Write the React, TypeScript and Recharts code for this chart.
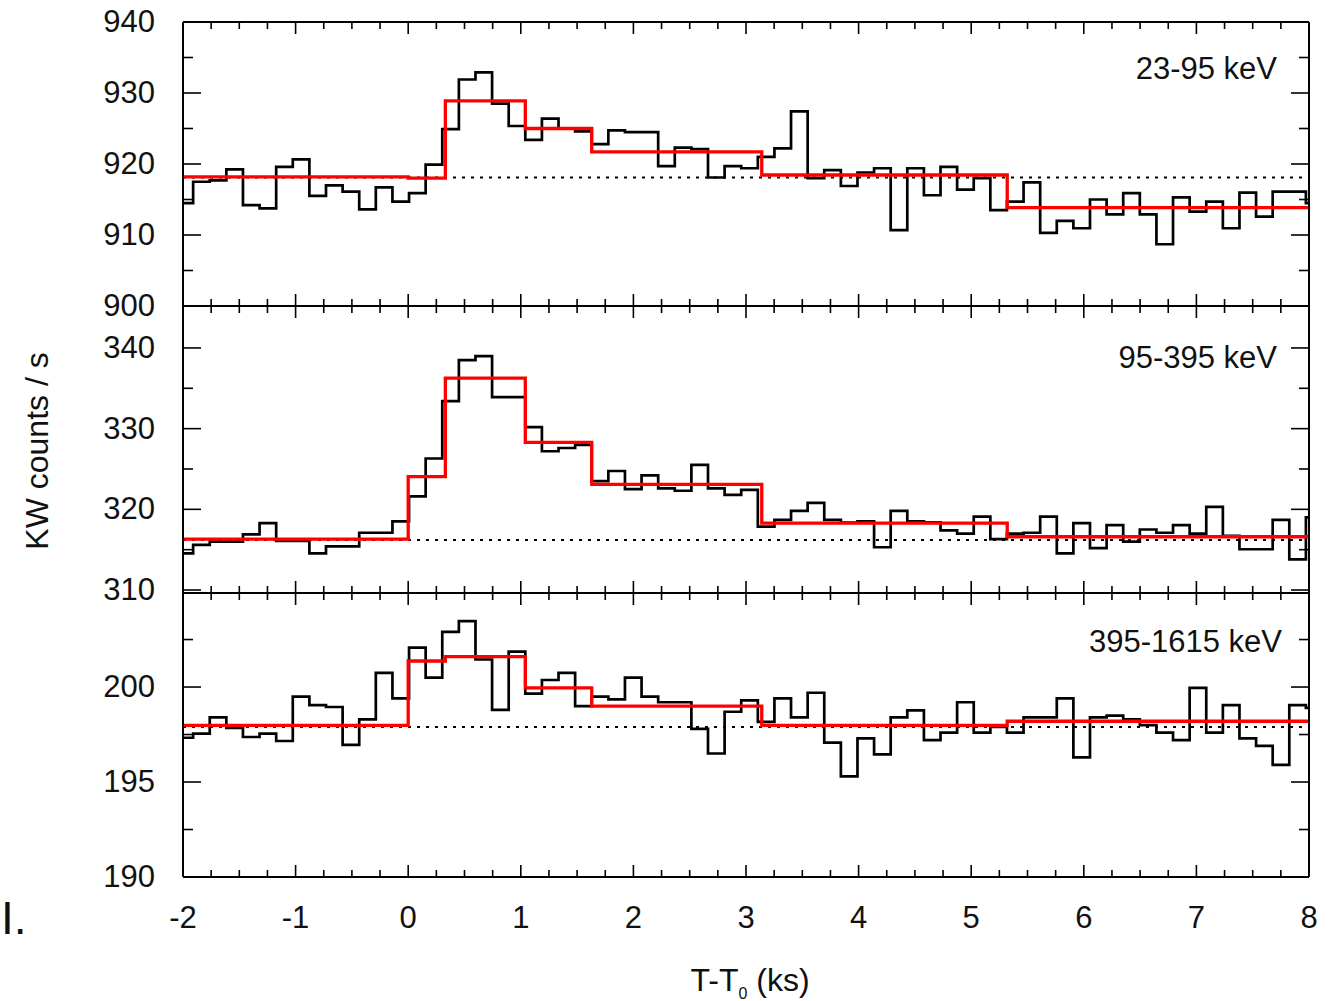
import React from 'react';
import { ComposedChart, Line, XAxis, YAxis } from 'recharts';

const W = 1337;
const H = 1001;
const PLOT_LEFT = 183;
const PLOT_RIGHT = 1309;
const FONT = "'Liberation Sans', Arial, sans-serif";
const FS = 31;

// time axis (ks)
const T_MIN = -2;
const T_MAX = 8;
const X_MAJOR = [-2, -1, 0, 1, 2, 3, 4, 5, 6, 7, 8];
const X_TICKS = [
  -2, -1.75, -1.5, -1.25, -1, -0.75, -0.5, -0.25, 0, 0.25, 0.5, 0.75, 1, 1.25, 1.5, 1.75,
  2, 2.25, 2.5, 2.75, 3, 3.25, 3.5, 3.75, 4, 4.25, 4.5, 4.75, 5, 5.25, 5.5, 5.75,
  6, 6.25, 6.5, 6.75, 7, 7.25, 7.5, 7.75, 8,
];

// light-curve binning (first full bin start, bin width, ks)
const BIN_START = -1.91;
const BIN_WIDTH = 0.1475;

// 23-95 keV counts (partial first bin, 67 bins, partial last bin)
const P1_COUNTS = [
  914.5,
  917.5, 917.7, 919.25, 914.2, 913.75, 919.6, 920.65, 915.5, 917.0, 916.1,
  913.6, 916.7, 914.7, 915.9, 919.9, 924.9, 931.9, 932.9, 928.5, 925.35,
  923.4, 926.4, 925.0, 924.6, 922.8, 924.75, 924.5, 924.5, 919.7, 922.3,
  922.1, 918.1, 919.7, 919.4, 921.0, 922.2, 927.4, 918.0, 919.15, 916.9,
  918.8, 919.4, 910.7, 919.4, 915.6, 919.6, 916.4, 918.0, 913.5, 914.7,
  917.4, 910.3, 912.0, 910.95, 915.0, 912.9, 915.9, 912.9, 908.7, 915.3,
  913.3, 914.7, 910.95, 915.96, 912.6, 916.1, 916.1,
  914.5,
];

// 95-395 keV counts
const P2_COUNTS = [
  314.55,
  315.6, 316.0, 316.0, 316.9, 318.3, 316.1, 316.1, 314.55, 315.4, 315.4,
  317.1, 317.1, 318.5, 321.6, 326.3, 333.4, 338.5, 339.0, 333.9, 333.9,
  330.2, 327.2, 327.6, 328.0, 323.5, 324.75, 322.5, 324.2, 322.6, 322.3,
  325.5, 322.6, 321.8, 322.4, 317.85, 318.7, 319.8, 320.8, 318.7, 318.35,
  318.5, 315.3, 319.8, 318.5, 318.4, 317.4, 317.0, 319.1, 316.3, 317.0,
  317.1, 319.1, 314.55, 318.3, 315.2, 318.05, 316.0, 317.5, 317.1, 318.05,
  317.0, 320.3, 316.7, 315.05, 315.05, 318.7, 313.8,
  319.0,
];

// 395-1615 keV counts
const P3_COUNTS = [
  197.33,
  197.55, 198.4, 197.85, 197.37, 197.55, 197.16, 199.5, 199.05, 198.95, 196.95,
  198.3, 200.75, 199.4, 202.07, 200.5, 202.9, 203.47, 201.45, 198.8, 201.86,
  199.65, 200.37, 200.75, 199.0, 199.5, 199.35, 200.5, 199.5, 199.2, 199.2,
  197.8, 196.5, 198.7, 199.3, 198.17, 199.4, 198.4, 199.7, 197.07, 195.3,
  197.3, 196.45, 198.4, 198.77, 197.2, 197.6, 199.2, 197.6, 197.9, 197.6,
  198.4, 198.4, 199.4, 196.3, 198.4, 198.5, 198.3, 198.0, 197.6, 197.2,
  199.96, 197.6, 199.05, 197.3, 196.9, 195.9, 199.05,
  198.9,
];

// Bayesian blocks (red)
const BLOCK_EDGES = [-2, 0, 0.33, 1.04, 1.63, 3.14, 5.32, 8];
const P1_BLOCKS = [918.2, 918.0, 928.9, 925.0, 921.7, 918.45, 913.85];
const P2_BLOCKS = [316.3, 324.05, 336.25, 328.3, 323.1, 318.3, 316.6];
const P3_BLOCKS = [197.98, 201.37, 201.6, 199.96, 199.0, 197.98, 198.2];

// background levels (dotted)
const P1_BASE = 918.1;
const P2_BASE = 316.2;
const P3_BASE = 197.9;

// y axes
const P1_DOMAIN = [900, 940];
const P1_MAJOR = [900, 910, 920, 930, 940];
const P1_TICKS = [900, 905, 910, 915, 920, 925, 930, 935, 940];
const P2_DOMAIN = [309.63, 345.2];
const P2_MAJOR = [310, 320, 330, 340];
const P2_TICKS = [310, 315, 320, 325, 330, 335, 340];
const P3_DOMAIN = [190, 204.95];
const P3_MAJOR = [190, 195, 200];
const P3_TICKS = [190, 192.5, 195, 197.5, 200, 202.5];

const toSteps = (counts: number[]) => {
  const pts = [{ x: T_MIN, y: counts[0] }];
  for (let k = 1; k < counts.length; k++) {
    pts.push({ x: BIN_START + (k - 1) * BIN_WIDTH, y: counts[k] });
  }
  pts.push({ x: T_MAX, y: counts[counts.length - 1] });
  return pts;
};

const toBlocks = (edges: number[], vals: number[]) => {
  const pts = vals.map((v, i) => ({ x: edges[i], y: v }));
  pts.push({ x: edges[edges.length - 1], y: vals[vals.length - 1] });
  return pts;
};

const toBase = (v: number) => [
  { x: T_MIN, y: v },
  { x: T_MAX, y: v },
];

const XTick = (props: any) => {
  const { x, y, payload, dir, showLabel } = props;
  const v = payload.value;
  const major = X_MAJOR.includes(v);
  const len = major ? 12 : 7;
  return (
    <g>
      <line x1={x} x2={x} y1={y} y2={y + dir * len} stroke="#000" strokeWidth={1.6} />
      {showLabel && major && (
        <text x={x} y={y + 51} textAnchor="middle" fontSize={FS} fontFamily={FONT} fill="#111">
          {v}
        </text>
      )}
    </g>
  );
};

const YTick = (props: any) => {
  const { x, y, payload, dir, showLabel, major } = props;
  const v = payload.value;
  const isMajor = major.includes(v);
  const len = isMajor ? 18 : 10;
  return (
    <g>
      <line x1={x} x2={x + dir * len} y1={y} y2={y} stroke="#000" strokeWidth={1.6} />
      {showLabel && isMajor && (
        <text x={x - 28} y={y + 10} textAnchor="end" fontSize={FS} fontFamily={FONT} fill="#111">
          {v}
        </text>
      )}
    </g>
  );
};

type PanelProps = {
  top: number;
  bottom: number;
  domain: number[];
  major: number[];
  ticks: number[];
  counts: number[];
  blocks: number[];
  base: number;
  bottomLabels: boolean;
};

const AXIS_LINE = { stroke: '#000', strokeWidth: 2 };

const Panel = ({ top, bottom, domain, major, ticks, counts, blocks, base, bottomLabels }: PanelProps) => (
  <ComposedChart
    width={W}
    height={H}
    margin={{ top: top - 1, bottom: H - bottom - 1, left: PLOT_LEFT - 1, right: W - PLOT_RIGHT - 1 }}
    style={{ position: 'absolute', left: 0, top: 0 }}
  >
    <XAxis
      xAxisId="b"
      type="number"
      dataKey="x"
      domain={[T_MIN, T_MAX]}
      ticks={X_TICKS}
      interval={0}
      allowDataOverflow
      height={1}
      tickSize={0}
      tickMargin={0}
      tickLine={false}
      axisLine={AXIS_LINE}
      tick={(p: any) => <XTick {...p} dir={-1} showLabel={bottomLabels} />}
    />
    <XAxis
      xAxisId="t"
      orientation="top"
      type="number"
      dataKey="x"
      domain={[T_MIN, T_MAX]}
      ticks={X_TICKS}
      interval={0}
      allowDataOverflow
      height={1}
      tickSize={0}
      tickMargin={0}
      tickLine={false}
      axisLine={AXIS_LINE}
      tick={(p: any) => <XTick {...p} dir={1} showLabel={false} />}
    />
    <YAxis
      yAxisId="l"
      type="number"
      domain={domain}
      ticks={ticks}
      interval={0}
      allowDataOverflow
      width={1}
      tickSize={0}
      tickMargin={0}
      tickLine={false}
      axisLine={AXIS_LINE}
      tick={(p: any) => <YTick {...p} dir={1} showLabel major={major} />}
    />
    <YAxis
      yAxisId="r"
      orientation="right"
      type="number"
      domain={domain}
      ticks={ticks}
      interval={0}
      allowDataOverflow
      width={1}
      tickSize={0}
      tickMargin={0}
      tickLine={false}
      axisLine={AXIS_LINE}
      tick={(p: any) => <YTick {...p} dir={-1} showLabel={false} major={major} />}
    />
    <Line
      xAxisId="b"
      yAxisId="l"
      data={toBase(base)}
      dataKey="y"
      type="linear"
      stroke="#000"
      strokeWidth={2}
      strokeDasharray="3 6"
      dot={false}
      isAnimationActive={false}
    />
    <Line
      xAxisId="b"
      yAxisId="l"
      data={toSteps(counts)}
      dataKey="y"
      type="stepAfter"
      stroke="#000"
      strokeWidth={2.7}
      dot={false}
      isAnimationActive={false}
    />
    <Line
      xAxisId="b"
      yAxisId="l"
      data={toBlocks(BLOCK_EDGES, blocks)}
      dataKey="y"
      type="stepAfter"
      stroke="#ff0000"
      strokeWidth={3.3}
      dot={false}
      isAnimationActive={false}
    />
  </ComposedChart>
);

export default function App() {
  return (
    <div style={{ position: 'absolute', left: 0, top: 0, width: W, height: H, background: '#fff' }}>
      <Panel top={22} bottom={306} domain={P1_DOMAIN} major={P1_MAJOR} ticks={P1_TICKS}
        counts={P1_COUNTS} blocks={P1_BLOCKS} base={P1_BASE} bottomLabels={false} />
      <Panel top={306} bottom={593} domain={P2_DOMAIN} major={P2_MAJOR} ticks={P2_TICKS}
        counts={P2_COUNTS} blocks={P2_BLOCKS} base={P2_BASE} bottomLabels={false} />
      <Panel top={593} bottom={877} domain={P3_DOMAIN} major={P3_MAJOR} ticks={P3_TICKS}
        counts={P3_COUNTS} blocks={P3_BLOCKS} base={P3_BASE} bottomLabels />
      <svg width={W} height={H} style={{ position: 'absolute', left: 0, top: 0, pointerEvents: 'none' }}>
        <g fontFamily={FONT} fill="#111" fontSize={FS}>
          <text x={1277} y={79} textAnchor="end">23-95 keV</text>
          <text x={1277} y={368} textAnchor="end">95-395 keV</text>
          <text x={1282} y={652} textAnchor="end">395-1615 keV</text>
          <text transform="translate(48,451) rotate(-90)" textAnchor="middle" fontSize={32}>KW counts / s</text>
          <text x={750} y={991} textAnchor="middle" fontSize={32}>
            T-T<tspan fontSize={16} dy={8}>0</tspan><tspan dy={-8}> (ks)</tspan>
          </text>
          <text x={1} y={934} fontSize={46}>I.</text>
        </g>
      </svg>
    </div>
  );
}
